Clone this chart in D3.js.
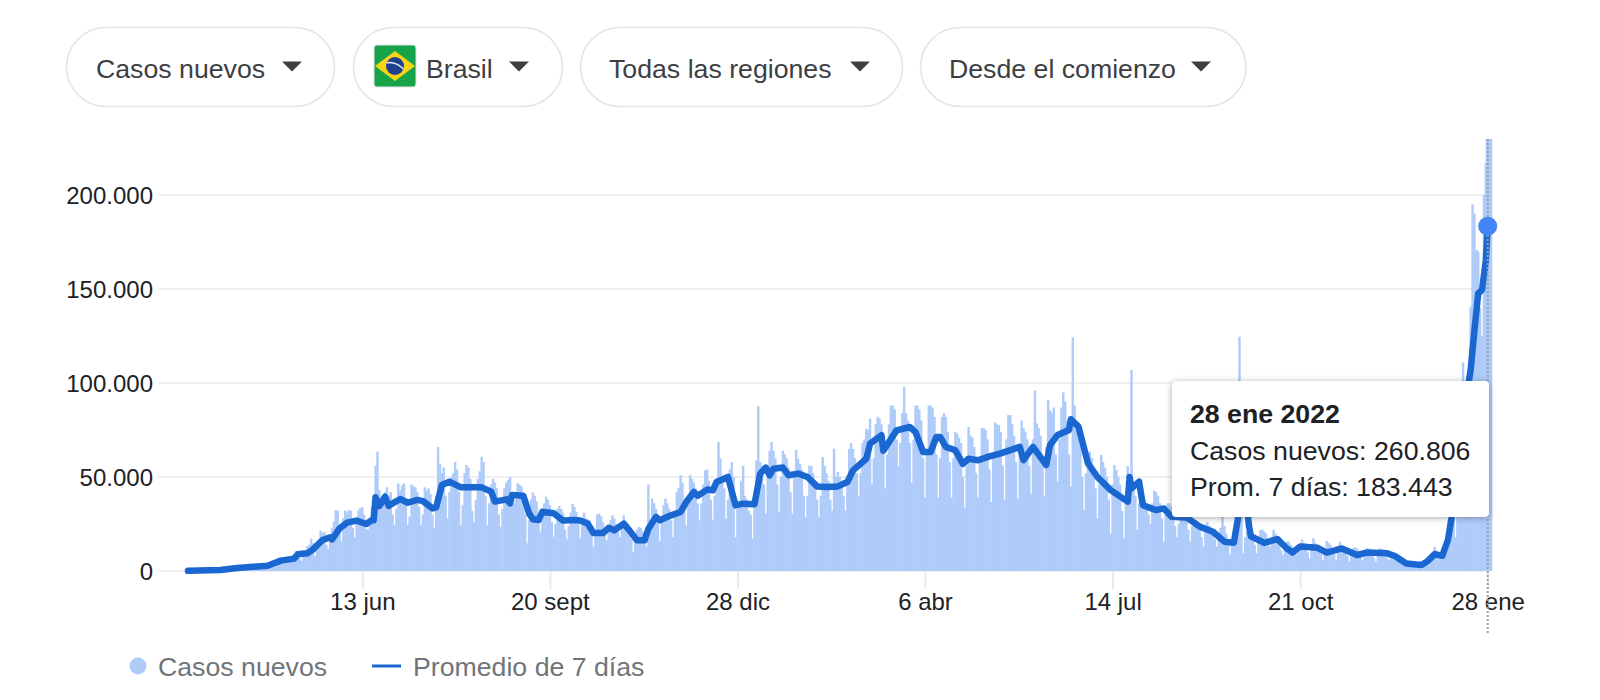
<!DOCTYPE html>
<html lang="es">
<head>
<meta charset="utf-8">
<title>Casos nuevos - Brasil</title>
<script src="https://cdn.jsdelivr.net/npm/d3@7"></script>
<style>
  html, body { margin: 0; padding: 0; background: #fff; }
  svg { display: block; font-family: "Liberation Sans", Arial, sans-serif; }
</style>
</head>
<body>
<svg id="chart" width="1600" height="700"></svg>
<script>
// Daily new cases in Brazil, in thousands, one row per week starting 13 Mar 2020
const dailyCases = [
  .1,.1,.1,.2,.1,.1,.3,
  .3,.4,.4,.3,.2,.3,.5,
  .4,.6,.5,.4,.3,.4,.8,
  .8,.9,.9,.6,.4,.7,1.1,
  1.2,1.2,1.1,.9,.7,1.1,1.8,
  1.9,1.7,2.1,1.5,1,1.8,3.3,
  3.7,3.6,4,2.6,2.3,3.5,5.2,
  6.2,7.4,7.3,5,4.6,6.3,7.5,
  9.3,10.6,10.2,6.8,5.6,8.5,11,
  13.1,13.9,17.2,14.9,7.9,12.8,16.5,
  21.5,20,20.8,14,11.7,16.4,22.7,
  26.4,32.4,32,24,15.6,28,32.2,
  31.2,32.5,32,23,18,26,32.2,
  33.5,34,30,22.5,22,24.5,34,
  38,56,63.5,43,33,37,42,
  44.5,40,42,30,24.5,33,46.6,
  43,45.5,46.6,38,24.5,29,46,
  45,44.5,42,34,24.5,30,44.5,
  43,44,41,30,23,40,66,
  57,52,55,40,28,42,50,
  52,58,54,42,24.5,35,52,
  56.4,55,49,32,26,38,49,
  53,60.8,58,40,24.5,36,46,
  49,47,44,30,23.6,33,44,
  47,48.4,50,42,36,38,46.6,
  46,45,41,30,14.7,27,38,
  41.7,40,37,28,21,29,36,
  39.5,38,35,26,18.3,25,33,
  34.6,33,31,22,16.8,24,31,
  35.6,34,31.4,27,17.4,25,31,
  28,27.5,27,20,12.8,22,30,
  30.5,29,26,20,16.3,21,27,
  29.6,28,25,21,18,23,29.6,
  24,23.4,22,17,10,17,22,
  23.4,23,21,17,13,46,28,
  38.5,36,33,26,16,29,35,
  38.5,36,33,27,18,32,42,
  44.3,51,47,36,24,40,51,
  49,47,44,36,27,36,46,
  53.5,54,48,38,27.3,40,49,
  68.6,60,50,44,27.8,38,54,
  58,50,18,33,36,48,56,
  40,38,32,30,17.2,40,58.9,
  87.6,58,56,46,30.5,50,64,
  68.6,64,60,46,31.4,50,64,
  62,60,55,42,30.5,52,64.5,
  59.7,57,54,40,28.7,40,56,
  56,52,48,38,28.7,40,60.6,
  56,52,48,38,32,65,50,
  52.7,50,48,40,32,48,65,
  68,65,60,52,40,52,68,
  70,75.7,75,81,46,60,78,
  82,81,78,66,44,62,78,
  88,88,86,70,55.7,68,84,
  97.9,84,80,68,47,70,88,
  88,86,80,60,39,62,88,
  88,87,82,62,39,60,82,
  84,82,74,58,39,60,74,
  73,71,68,50,33.7,56,76.6,
  72,71,66,52,39,58,76,
  76,75,70,54,36.7,62,79,
  78,77.6,74,56,37.8,70,83,
  83,78,72,58,38.6,62,80,
  76,74,70,56,41,70,96,
  78.5,76,72,58,40,66,91,
  85.6,84,87,62,47.5,70,87,
  95,90,80,62,45,124.3,88,
  76.8,72,68,50,32.4,52,63,
  63.5,60,55,44,28,46,61.7,
  58,55,50,38,20,46,56.4,
  53.7,50,46,32,17.4,40,55.8,
  50,106.9,44,40,21.8,36,41,
  41,38,36,30,25,36,42.7,
  42,40,36,28,15.6,30,36,
  36,34,30,24,18,25,30,
  29,29,27,22,15.6,24,27,
  27,26,24,18,13,22,26,
  24,23,21,17,13,20,23,
  29,24,20,14,8.5,16,20,
  22,26,124.6,30,9.4,18,21,
  21,20,18,14,9.4,16,21.8,
  22,21,20,16,13,17,22,
  20,18,15.6,11,8.5,12,15.6,
  15.6,14,13,10,9,10,14,
  16.8,15,13,10,6.7,11,17.4,
  15,14,12,9,5.8,10,16,
  15,14,12,9,5.8,11,15.6,
  13.3,13,11,8,5,9,12,
  12.6,12,10,8,5.8,9,12,
  12,11.5,10,7,5,9,12,
  12,11.5,10,7,5.8,8,9,
  6.7,6.5,5,4,3.2,4,5,
  5,4.8,4,3.5,2.8,3.5,5,
  4.5,5,6,4,3,6,7.6,
  12.9,11,9,7,6,10,14,
  20,24,30,32,18,38,62,
  75,111,78,60,70,140.6,195,
  190,170.7,170,140,125,200,217,260.806
];

// Seven-day average, sampled at the day offsets listed in avgDays (thousands)
const avgDays = [
  0,17,26,42,49,56,58,63,66,71,75,76,80,84,89,94,97,98,99,101,104,106,108,112,116,121,124,129,131,134,138,144,150,155,160,162,168,170,171,177,180,182,185,187,193,198,204,207,211,214,219,222,225,230,233,237,241,243,247,249,255,260,263,267,269,274,277,279,285,289,293,299,302,305,307,309,314,317,322,327,332,337,343,348,351,358,360,366,367,374,381,384,388,392,395,397,400,405,409,412,417,423,429,439,441,446,453,455,459,465,466,470,475,480,487,496,497,498,502,504,511,515,519,527,534,541,547,552,554,555,559,560,561,568,575,580,583,587,596,601,609,617,622,633,637,643,651,654,658,662,665,667,672,677,679,681,683,685,686
];
const avgValues = [
  .1,.5,1.6,2.8,5.5,6.6,8.9,9.4,11.5,16.5,17.9,16.8,22.7,25.7,26.8,25,27.1,27,39.2,34.6,39.5,34.6,36,38.3,36.3,37.8,37.2,33.3,33.9,45.7,47.5,44.5,44.5,44.5,42.2,36.9,38.1,36,40.4,40,30.7,27.5,27.1,31.5,30.7,26.8,27.1,26.9,25.2,20.2,20.2,23,21.6,25.2,21.6,16.3,16.3,22.5,28.7,27,29.6,31.4,36.7,42,40,43.3,42.9,47.3,50,34.9,35.8,35.5,51.8,55,50.9,54.4,55,50.9,51.8,50,45,44.7,45,47.3,53.5,59.7,67.7,72.2,64,74.8,76.6,73.9,63.3,63.3,71.3,71.3,66,64.2,57,59.7,58.9,61,62.6,66,59,66,56.4,67,72.3,75,80.7,76.8,57.3,50,43,36.9,50,44,47.5,35,32.4,33.3,28.9,28.5,23.6,20.9,15.6,15,27,34,34,24,18.5,15,17,12,9.8,13,12.4,9.8,12,8.5,9.8,9.4,8,4,3.2,5,9,8,16.5,28.9,75,107,128,147.7,149.5,165,183.443
];

const startDate = new Date(Date.UTC(2020, 2, 13));
const tickDates = [
  [2020, 5, 13], [2020, 8, 20], [2020, 11, 28], [2021, 3, 6], [2021, 6, 14], [2021, 9, 21], [2022, 0, 28]
].map(([y, m, d]) => new Date(Date.UTC(y, m, d)));
const tickLabels = ["13 jun", "20 sept", "28 dic", "6 abr", "14 jul", "21 oct", "28 ene"];
const yTicks = [0, 50000, 100000, 150000, 200000];

const pillLabels = ["Casos nuevos", "Brasil", "Todas las regiones", "Desde el comienzo"];
const legendLabels = ["Casos nuevos", "Promedio de 7 días"];
const tooltipLines = ["28 ene 2022", "Casos nuevos: 260.806", "Prom. 7 días: 183.443"];

const BAR_COLOR = "#aecbfa", LINE_COLOR = "#1a67d2", DOT_COLOR = "#4285f4";
const DAY = 864e5;
const dateOf = i => new Date(startDate.getTime() + i * DAY);

const svg = d3.select("#chart");
const es = d3.formatLocale({ decimal: ",", thousands: ".", grouping: [3], currency: ["", " €"] });

const x = d3.scaleUtc().domain([startDate, tickDates[6]]).range([188, 1487.7]);
const y = d3.scaleLinear().domain([0, 200000]).range([571, 195]);
const dayWidth = x(dateOf(1)) - x(dateOf(0));
const barWidth = dayWidth + 0.55;

// Gridlines and value axis
const yAxis = d3.axisLeft(y).tickValues(yTicks).tickSize(0).tickPadding(0)
  .tickFormat(v => es.format(",")(v));
const gy = svg.append("g").attr("transform", "translate(155,0)").call(yAxis);
gy.select(".domain").remove();
gy.selectAll("text").attr("font-size", 24).attr("fill", "#202124").attr("x", -2).attr("dy", "0.34em")
  .attr("font-family", "'Liberation Sans', Arial, sans-serif");
svg.append("g").selectAll("line").data(yTicks).join("line")
  .attr("x1", 158).attr("x2", 1484)
  .attr("y1", d => y(d)).attr("y2", d => y(d))
  .attr("stroke", "#f0f0f0").attr("stroke-width", 2);

// Bars, cut off at the top of the plot; the hovered day is drawn wider
svg.append("clipPath").attr("id", "plot").append("rect")
  .attr("x", 150).attr("y", 139).attr("width", 1400).attr("height", 500);
const plot = svg.append("g").attr("clip-path", "url(#plot)");
const lastIndex = dailyCases.length - 1;
plot.append("g").selectAll("rect").data(dailyCases).join("rect")
  .attr("x", (d, i) => x(dateOf(i)) - (i === lastIndex ? 2 : barWidth / 2))
  .attr("width", (d, i) => i === lastIndex ? 6.6 : barWidth)
  .attr("y", d => y(d * 1000))
  .attr("height", d => y(0) - y(d * 1000))
  .attr("fill", BAR_COLOR);

// Date axis
const xAxis = d3.axisBottom(x).tickValues(tickDates).tickSize(18).tickPadding(4)
  .tickFormat((d, i) => tickLabels[i]);
const gx = svg.append("g").attr("transform", "translate(0,571)").call(xAxis);
gx.select(".domain").remove();
gx.selectAll("line").attr("stroke", "#e8eaed").attr("stroke-width", 2);
gx.selectAll("text").attr("font-size", 24).attr("fill", "#202124")
  .attr("font-family", "'Liberation Sans', Arial, sans-serif");

// Hover guide on the latest day
const lastX = x(tickDates[6]);
svg.append("line").attr("x1", lastX).attr("x2", lastX).attr("y1", 139).attr("y2", 634)
  .attr("stroke", "#9aa0a6").attr("stroke-width", 2).attr("stroke-dasharray", "2,2");

// Seven-day average
const line = d3.line().x(d => x(dateOf(d[0]))).y(d => y(d[1] * 1000));
plot.append("path").datum(avgDays.map((d, i) => [d, avgValues[i]]))
  .attr("d", line).attr("fill", "none").attr("stroke", LINE_COLOR)
  .attr("stroke-width", 6.5).attr("stroke-linejoin", "round").attr("stroke-linecap", "round");
svg.append("circle")
  .attr("cx", x(dateOf(avgDays[avgDays.length - 1])))
  .attr("cy", y(avgValues[avgValues.length - 1] * 1000))
  .attr("r", 9.5).attr("fill", DOT_COLOR);

// Tooltip card
const tip = svg.append("g");
tip.append("rect").attr("x", 1172).attr("y", 381).attr("width", 317).attr("height", 136).attr("rx", 4)
  .attr("fill", "#fff").style("filter", "drop-shadow(0 1px 3px rgba(60,64,67,.45))");
tip.selectAll("text").data(tooltipLines).join("text")
  .attr("x", 1190)
  .attr("y", (d, i) => [423, 460, 496][i])
  .attr("font-size", 26.7).attr("fill", "#202124")
  .attr("font-weight", (d, i) => i === 0 ? 700 : 400)
  .text(d => d);

// Filter pills across the top
const pills = [[66, 268], [353, 209], [580, 322], [920, 325.5]];
const pillText = [96, 426, 609, 949];
const caretX = [292, 519, 860, 1201];
const pg = svg.append("g");
pg.selectAll("rect").data(pills).join("rect")
  .attr("x", d => d[0] + .5).attr("y", 27.5).attr("width", d => d[1]).attr("height", 79).attr("rx", 39.5)
  .attr("fill", "#fff").attr("stroke", "#e3e5e8").attr("stroke-width", 1.6);
pg.selectAll("text").data(pillLabels).join("text")
  .attr("x", (d, i) => pillText[i]).attr("y", 78)
  .attr("font-size", 26.7).attr("fill", "#3c4043").text(d => d);
pg.selectAll("path").data(caretX).join("path")
  .attr("d", d => `M${d - 10},61.5 h20 l-10,10 z`).attr("fill", "#3c4043");

// Brazilian flag inside the country pill
const flag = svg.append("g").attr("transform", "translate(395,66)");
flag.append("rect").attr("x", -21).attr("y", -21).attr("width", 42).attr("height", 42).attr("rx", 3)
  .attr("fill", "#16a34a").attr("stroke", "#dfe1e5");
flag.append("path").attr("d", "M-20,0 L0,-15 L20,0 L0,15 Z").attr("fill", "#f7d417");
flag.append("circle").attr("r", 9).attr("fill", "#1f3f8f");
flag.append("path").attr("d", "M-8.5,-3 Q0,-5 8.5,3").attr("fill", "none").attr("stroke", "#e8eef6").attr("stroke-width", 1.5);

// Legend
const legend = svg.append("g");
legend.append("circle").attr("cx", 138).attr("cy", 666).attr("r", 8.5).attr("fill", BAR_COLOR);
legend.append("line").attr("x1", 372).attr("x2", 401).attr("y1", 666).attr("y2", 666)
  .attr("stroke", LINE_COLOR).attr("stroke-width", 3);
legend.selectAll("text").data(legendLabels).join("text")
  .attr("x", (d, i) => [158, 413][i]).attr("y", 675.5)
  .attr("font-size", 26.7).attr("fill", "#70757a").text(d => d);
</script>
</body>
</html>
